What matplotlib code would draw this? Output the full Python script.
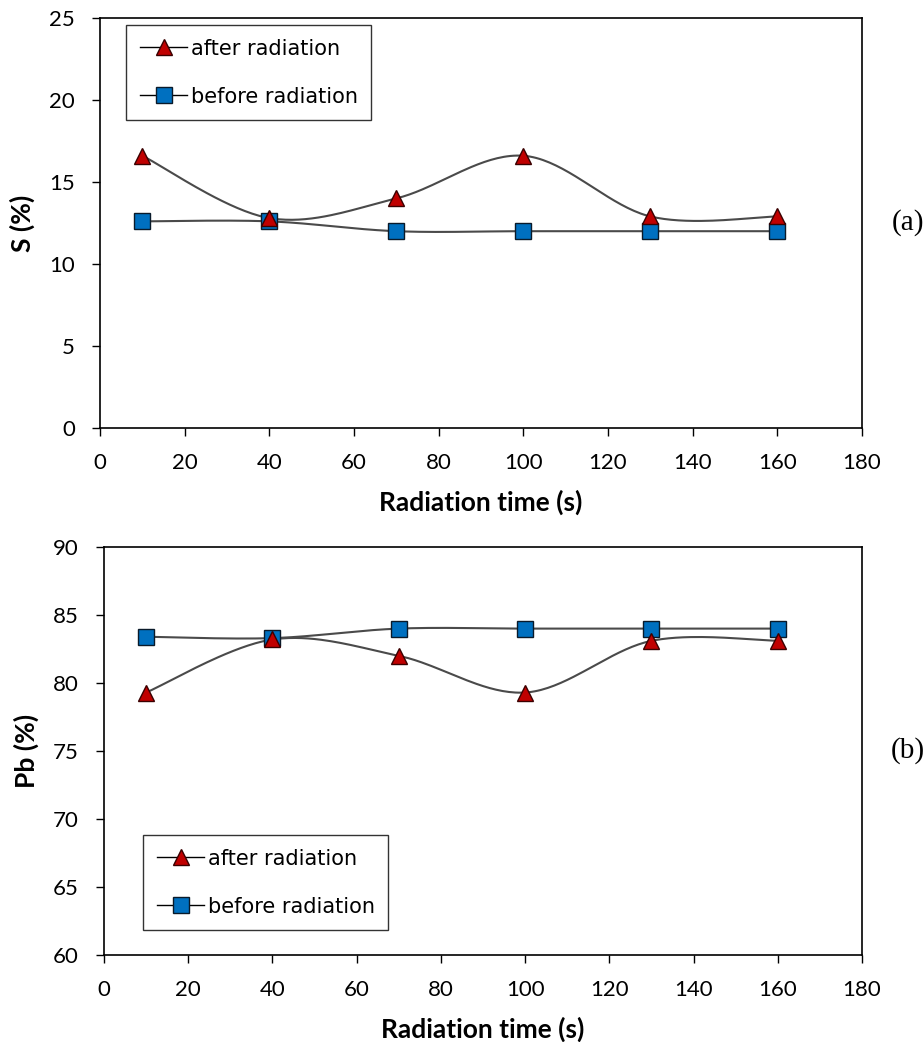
import numpy as np
import matplotlib
matplotlib.use("Agg")
import matplotlib.pyplot as plt

# radiation time (s)
time_s = [10, 40, 70, 100, 130, 160]

# panel (a): S content
s_after = [16.6, 12.8, 14.0, 16.6, 12.9, 12.9]
s_before = [12.6, 12.6, 12.0, 12.0, 12.0, 12.0]

# panel (b): Pb content
pb_after = [79.3, 83.2, 82.0, 79.3, 83.1, 83.1]
pb_before = [83.4, 83.3, 84.0, 84.0, 84.0, 84.0]

x_ticks = list(range(0, 181, 20))
s_ticks = [0, 5, 10, 15, 20, 25]
pb_ticks = [60, 65, 70, 75, 80, 85, 90]


def smooth(x, y, n=40):
    # Excel-style smoothed line: cubic Bezier segments with Catmull-Rom handles
    x = np.asarray(x, float)
    y = np.asarray(y, float)
    px = np.concatenate([[x[0]], x, [x[-1]]])
    py = np.concatenate([[y[0]], y, [y[-1]]])
    t = np.linspace(0, 1, n)
    xs, ys = [], []
    for i in range(1, len(px) - 2):
        p0 = np.array([px[i], py[i]])
        p3 = np.array([px[i + 1], py[i + 1]])
        p1 = p0 + (np.array([px[i + 1], py[i + 1]]) - np.array([px[i - 1], py[i - 1]])) / 6
        p2 = p3 - (np.array([px[i + 2], py[i + 2]]) - np.array([px[i], py[i]])) / 6
        b = ((1 - t) ** 3)[:, None] * p0 + (3 * (1 - t) ** 2 * t)[:, None] * p1 \
            + (3 * (1 - t) * t ** 2)[:, None] * p2 + (t ** 3)[:, None] * p3
        xs.append(b[:, 0])
        ys.append(b[:, 1])
    return np.concatenate(xs), np.concatenate(ys)


fig = plt.figure(figsize=(9.24, 10.42), dpi=100)
W, H = 924, 1042
ax1 = fig.add_axes([100 / W, 1 - 428 / H, 762 / W, 410 / H])
ax2 = fig.add_axes([104 / W, 1 - 955 / H, 758 / W, 408 / H])

tick_font = dict(family="Lato", size=16)
label_font = dict(family="Lato", size=19, weight="bold")


def draw(ax, after, before, yticks, ylabel, tag, leg_box):
    xa, ya = smooth(time_s, after)
    xb, yb = smooth(time_s, before)
    ax.plot(xa, ya, color="#4a4a4a", lw=1.5, zorder=2)
    ax.plot(xb, yb, color="#4a4a4a", lw=1.5, zorder=2)
    ax.plot(time_s, after, ls="none", marker="^", ms=12, mfc="#c00000",
            mec="#3a0000", mew=1.0, zorder=4)
    ax.plot(time_s, before, ls="none", marker="s", ms=12, mfc="#0070c0",
            mec="#0a1a2a", mew=1.0, zorder=3)
    # legend handles
    h1, = ax.plot([], [], color="black", lw=1.0, marker="^", ms=12,
                  mfc="#c00000", mec="#3a0000", label="after radiation")
    h2, = ax.plot([], [], color="black", lw=1.0, marker="s", ms=12,
                  mfc="#0070c0", mec="#0a1a2a", label="before radiation")
    leg = ax.legend(handles=[h1, h2], loc="upper left", bbox_to_anchor=leg_box,
                    frameon=True, fancybox=False, edgecolor="black",
                    prop=dict(family="DejaVu Sans", size=15), handlelength=2.3,
                    handletextpad=0.15, labelspacing=1.35, borderpad=0.65,
                    borderaxespad=0)
    leg.get_frame().set_linewidth(1.0)

    ax.set_xlim(0, 180)
    ax.set_ylim(yticks[0], yticks[-1])
    ax.set_xticks(x_ticks)
    ax.set_yticks(yticks)
    ax.set_xticklabels([str(v) for v in x_ticks], **tick_font)
    ax.set_yticklabels([str(v) for v in yticks], **tick_font)
    ax.tick_params(direction="out", length=6, width=1, pad=12)
    for sp in ax.spines.values():
        sp.set_linewidth(1.2)
    ax.set_xlabel("Radiation time (s)", labelpad=12, **label_font)
    ax.set_ylabel(ylabel, labelpad=10, **label_font)
    ax.text(1.06, 0.5, tag, transform=ax.transAxes, ha="center", va="center",
            family="Liberation Serif", size=21)


draw(ax1, s_after, s_before, s_ticks, "S (%)", "(a)", (26 / 762, 1 - 7 / 410))
draw(ax2, pb_after, pb_before, pb_ticks, "Pb (%)", "(b)", (39 / 758, 1 - 288 / 408))

fig.savefig("out.png", dpi=100)
